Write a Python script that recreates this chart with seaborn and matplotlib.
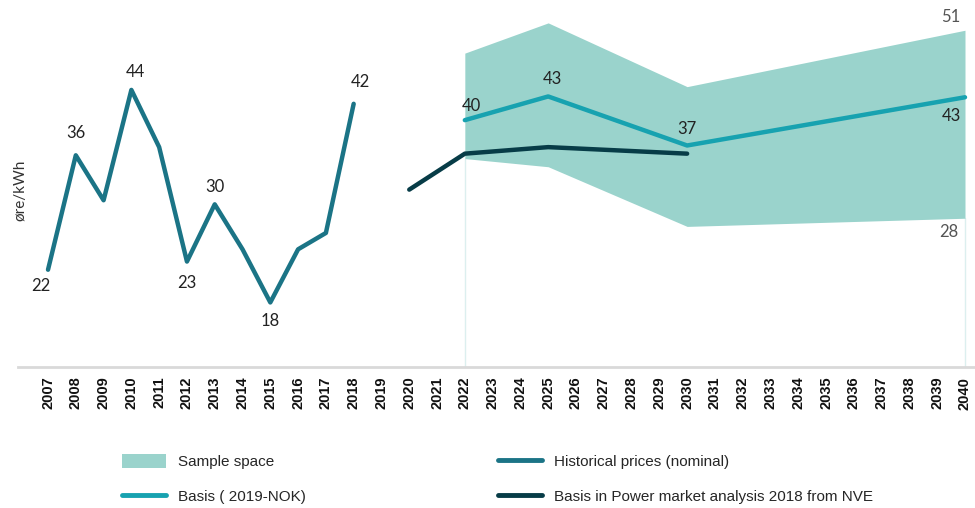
import matplotlib
matplotlib.use("Agg")
import matplotlib.pyplot as plt
from matplotlib.patches import Patch
from matplotlib.lines import Line2D
import seaborn as sns
import pandas as pd

# data
hist_years = [2007, 2008, 2009, 2010, 2011, 2012, 2013, 2014, 2015, 2016, 2017, 2018]
hist_prices = [22, 36, 30.5, 44, 37, 23, 30, 24.5, 18, 24.5, 26.5, 42.3]
hist_labelled = [2007, 2008, 2010, 2012, 2013, 2015, 2018]

nve_years = [2020, 2022, 2025, 2030]
nve_prices = [31.8, 36.2, 37.0, 36.2]

basis_years = [2022, 2025, 2030, 2040]
basis_prices = [40.3, 43.2, 37.2, 43.1]
band_upper = [48.5, 52.2, 44.4, 51.3]
band_lower = [35.6, 34.6, 27.3, 28.3]

all_years = list(range(2007, 2041))

c_hist = "#1b7486"
c_basis = "#17a2b0"
c_nve = "#073c47"
c_band = "#9ad3cc"

sns.set_style("white")
plt.rcParams["font.family"] = ["Liberation Sans", "DejaVu Sans"]

fig = plt.figure(figsize=(9.75, 5.08), dpi=100)
ax = fig.add_axes([18 / 975, 1 - 367 / 508, 1 - 18 / 975, 367 / 508])

hist = pd.DataFrame({"year": hist_years, "price": hist_prices})
nve = pd.DataFrame({"year": nve_years, "price": nve_prices})
basis = pd.DataFrame({"year": basis_years, "price": basis_prices})

ax.fill_between(basis_years, band_lower, band_upper, color=c_band, lw=0, zorder=1)
# faint drop lines under the band
for yr, lo in [(basis_years[0], band_lower[0]), (basis_years[-1], band_lower[-1])]:
    ax.plot([yr, yr], [10.1, lo], color="#dcefef", lw=1, zorder=0)

sns.lineplot(data=hist, x="year", y="price", color=c_hist, lw=3.2, ax=ax, zorder=3)
sns.lineplot(data=nve, x="year", y="price", color=c_nve, lw=3.2, ax=ax, zorder=4)
sns.lineplot(data=basis, x="year", y="price", color=c_basis, lw=3.2, ax=ax, zorder=3)

lab_font = dict(family=["Lato", "DejaVu Sans"], fontsize=12, color="#222222")

# historical labels: above or below the point
hist_pos = {2007: (-0.25, -1.0, "top"), 2008: (0, 1.8, "bottom"), 2010: (0.15, 1.2, "bottom"),
            2012: (0, -1.6, "top"), 2013: (0, 1.2, "bottom"), 2015: (0, -1.3, "top"),
            2018: (0.25, 1.7, "bottom")}
for yr, v in zip(hist_years, hist_prices):
    if yr in hist_labelled:
        dx, dy, va = hist_pos[yr]
        ax.text(yr + dx, v + dy, f"{v:.0f}", ha="center", va=va, **lab_font)

basis_pos = [(0.25, 0.7, "bottom"), (0.15, 1.1, "bottom"), (0.0, 1.0, "bottom"), (-0.5, -1.3, "top")]
for yr, v, (dx, dy, va) in zip(basis_years, basis_prices, basis_pos):
    ax.text(yr + dx, v + dy, f"{v:.0f}", ha="center", va=va, **lab_font)

grey_font = dict(lab_font, color="#555555")
ax.text(basis_years[-1] - 0.5, band_upper[-1] + 0.6, f"{band_upper[-1]:.0f}", ha="center", va="bottom", **grey_font)
ax.text(basis_years[-1] - 0.6, band_lower[-1] - 0.7, f"{band_lower[-1]:.0f}", ha="center", va="top", **grey_font)

ax.set_xlim(2005.92, 2040.36)
ax.set_ylim(10.1, 55.0)
ax.set_xticks(all_years)
ax.set_xticklabels([str(y) for y in all_years], rotation=90, fontsize=10.5,
                   fontweight="bold", color="#111111")
ax.tick_params(axis="x", length=0, pad=7)
ax.set_yticks([])
ax.set_xlabel("")
ax.set_ylabel("")
for side in ["top", "right", "left"]:
    ax.spines[side].set_visible(False)
ax.spines["bottom"].set_color("#d9d9d9")
ax.spines["bottom"].set_linewidth(2)

fig.text(20 / 975, 1 - 190 / 508, "øre/kWh", rotation=90, ha="center", va="center",
         fontsize=11, color="#333333", family=["Lato", "DejaVu Sans"])

handles = [
    Patch(facecolor=c_band, edgecolor="none"),
    Line2D([0], [0], color=c_basis, lw=3.5),
    Line2D([0], [0], color=c_hist, lw=3.5),
    Line2D([0], [0], color=c_nve, lw=3.5),
]
labels = ["Sample space", "Basis ( 2019-NOK)", "Historical prices (nominal)",
          "Basis in Power market analysis 2018 from NVE"]
fig.legend(handles, labels, ncol=2, loc="upper left", bbox_to_anchor=(108 / 975, 1 - 440 / 508),
           frameon=False, handlelength=2.9, handleheight=1.1,
           columnspacing=12.6, labelspacing=1.25, handletextpad=0.75,
           prop={"family": ["Liberation Sans"], "size": 11})

fig.savefig("out.png", dpi=100)
